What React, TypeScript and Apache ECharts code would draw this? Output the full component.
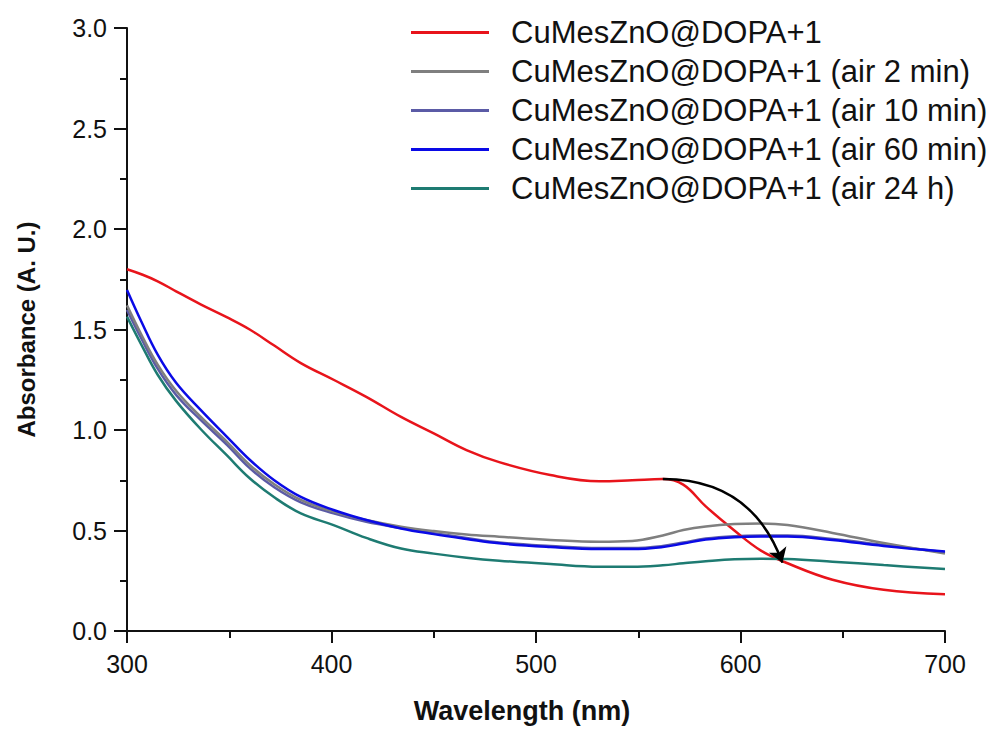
import React, { useEffect, useRef } from "react";
import * as echarts from "echarts";

const wavelengths = [300, 307, 315, 324, 336, 349, 360, 372, 385, 401, 417, 434, 450, 466, 482, 507, 531, 547, 562, 572, 583, 597, 610, 623, 645, 670, 700];

const seriesNames = [
  "CuMesZnO@DOPA+1",
  "CuMesZnO@DOPA+1 (air 2 min)",
  "CuMesZnO@DOPA+1 (air 10 min)",
  "CuMesZnO@DOPA+1 (air 60 min)",
  "CuMesZnO@DOPA+1 (air 24 h)",
];

const fresh = [1.8, 1.775, 1.74, 1.69, 1.625, 1.56, 1.5, 1.42, 1.333, 1.25, 1.165, 1.065, 0.983, 0.9, 0.84, 0.776, 0.745, 0.75, 0.756, 0.728, 0.62, 0.5, 0.4, 0.337, 0.255, 0.205, 0.183];
const air2min = [1.62, 1.475, 1.325, 1.195, 1.066, 0.94, 0.826, 0.73, 0.652, 0.594, 0.552, 0.519, 0.497, 0.48, 0.469, 0.453, 0.444, 0.448, 0.475, 0.502, 0.52, 0.532, 0.535, 0.527, 0.488, 0.438, 0.386];
const air10min = [1.597, 1.455, 1.305, 1.175, 1.05, 0.925, 0.81, 0.715, 0.64, 0.585, 0.543, 0.512, 0.487, 0.463, 0.44, 0.423, 0.413, 0.413, 0.423, 0.44, 0.46, 0.472, 0.475, 0.475, 0.458, 0.428, 0.392];
const air60min = [1.697, 1.54, 1.375, 1.235, 1.1, 0.965, 0.852, 0.75, 0.667, 0.602, 0.552, 0.51, 0.482, 0.458, 0.436, 0.418, 0.408, 0.408, 0.418, 0.435, 0.455, 0.467, 0.47, 0.47, 0.453, 0.423, 0.395];
const air24h = [1.564, 1.425, 1.275, 1.145, 1.005, 0.872, 0.76, 0.665, 0.585, 0.527, 0.463, 0.41, 0.385, 0.365, 0.35, 0.333, 0.32, 0.32, 0.327, 0.337, 0.347, 0.357, 0.36, 0.358, 0.345, 0.328, 0.308];

const seriesValues = [fresh, air2min, air10min, air60min, air24h];
const seriesColors = ["#e8141b", "#7f7f7f", "#5b5ba6", "#0a0ae6", "#1e7b72"];

// arrow annotation: from red shoulder to the red curve near 620 nm
const arrowStart = [562, 0.756];
const arrowEnd = [620.5, 0.34];

const FONT = "'Liberation Sans', Arial, sans-serif";

export default function App() {
  const ref = useRef<HTMLDivElement>(null);
  useEffect(() => {
    if (!ref.current) return;
    const chart = echarts.init(ref.current, undefined, { renderer: "svg" });
    const lineSeries = seriesNames.map((name, i) => ({
      name,
      type: "line",
      data: wavelengths.map((w, j) => [w, seriesValues[i][j]]),
      smooth: 0.4,
      showSymbol: false,
      symbol: "none",
      lineStyle: { color: seriesColors[i], width: 2.5 },
      itemStyle: { color: seriesColors[i] },
      z: i === 2 ? 1 : 2,
    }));
    chart.setOption({
      animation: false,
      backgroundColor: "#ffffff",
      textStyle: { fontFamily: FONT },
      grid: { left: 127, right: 58, top: 28, bottom: 98, containLabel: false },
      legend: {
        orient: "vertical",
        left: 406,
        top: 12,
        itemWidth: 78,
        itemHeight: 3,
        itemGap: 8,
        icon: "rect",
        data: seriesNames,
        textStyle: { fontSize: 31, color: "#111", fontFamily: FONT, padding: [0, 0, 0, 17] },
      },
      xAxis: {
        type: "value",
        min: 300,
        max: 700,
        interval: 100,
        name: "Wavelength (nm)",
        nameLocation: "middle",
        nameGap: 66,
        nameTextStyle: { fontSize: 27, fontWeight: "bold", color: "#111", fontFamily: FONT, padding: [0, 28, 0, 0] },
        axisLine: { show: true, onZero: false, lineStyle: { color: "#111", width: 2 } },
        axisTick: { show: true, length: 12, inside: false, lineStyle: { color: "#111", width: 2 } },
        minorTick: { show: true, splitNumber: 2, length: 7, lineStyle: { color: "#111", width: 2 } },
        axisLabel: { fontSize: 25, color: "#111", margin: 20, fontFamily: FONT },
        splitLine: { show: false },
      },
      yAxis: {
        type: "value",
        min: 0,
        max: 3,
        interval: 0.5,
        name: "Absorbance (A. U.)",
        nameLocation: "middle",
        nameGap: 89,
        nameTextStyle: { fontSize: 24, fontWeight: "bold", color: "#111", fontFamily: FONT },
        axisLine: { show: true, onZero: false, lineStyle: { color: "#111", width: 2 } },
        axisTick: { show: true, length: 13, inside: false, lineStyle: { color: "#111", width: 2 } },
        minorTick: { show: true, splitNumber: 2, length: 7, lineStyle: { color: "#111", width: 2 } },
        axisLabel: { fontSize: 25, color: "#111", margin: 20, fontFamily: FONT, formatter: (v: number) => v.toFixed(1) },
        splitLine: { show: false },
      },
      series: [
        ...lineSeries,
        {
          type: "lines",
          coordinateSystem: "cartesian2d",
          polyline: false,
          symbol: ["none", "arrow"],
          symbolSize: 14,
          lineStyle: { color: "#000", width: 2.5, curveness: 0.35, opacity: 1 },
          data: [{ coords: [arrowStart, arrowEnd] }],
          z: 5,
        },
      ],
    });
    return () => chart.dispose();
  }, []);
  return <div ref={ref} style={{ position: "absolute", left: 0, top: 0, width: 1003, height: 729 }} />;
}
